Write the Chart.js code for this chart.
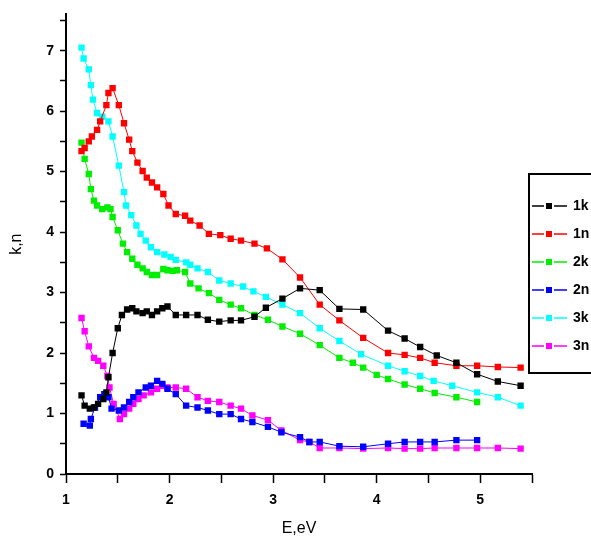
<!DOCTYPE html>
<html>
<head>
<meta charset="utf-8">
<script src="https://cdn.jsdelivr.net/npm/chart.js@4.4.1/dist/chart.umd.min.js"></script>
<style>
  html, body { margin: 0; padding: 0; background: #fff; }
</style>
</head>
<body>
<canvas id="chart" width="591" height="551"></canvas>
<script>
// series labels and colours
const seriesNames = ['1k', '1n', '2k', '2n', '3k', '3n'];
const seriesColors = ['#000000', '#ff0000', '#00ee00', '#0000ff', '#00ffff', '#ff00ff'];

// 1k (black)
const e1k = [1.15,1.18,1.23,1.27,1.31,1.36,1.39,1.41,1.45,1.50,1.54,1.59,1.64,1.68,1.74,1.78,1.83,1.88,1.93,1.98,2.06,2.16,2.27,2.37,2.48,2.59,2.69,2.82,2.93,3.09,3.26,3.45,3.64,3.87,4.11,4.27,4.42,4.58,4.77,4.97,5.17,5.39];
const v1k = [1.30,1.13,1.08,1.10,1.16,1.24,1.35,1.60,2.00,2.41,2.63,2.72,2.74,2.69,2.66,2.69,2.63,2.69,2.74,2.77,2.63,2.63,2.63,2.55,2.52,2.54,2.54,2.60,2.75,2.90,3.07,3.04,2.73,2.72,2.37,2.24,2.10,1.96,1.84,1.65,1.53,1.46];

// 1n (red)
const e1n = [1.15,1.18,1.22,1.25,1.30,1.33,1.39,1.41,1.45,1.51,1.56,1.61,1.64,1.69,1.74,1.78,1.83,1.88,1.94,1.99,2.06,2.15,2.20,2.29,2.38,2.49,2.59,2.69,2.82,2.94,3.09,3.26,3.45,3.64,3.87,4.11,4.27,4.42,4.56,4.77,4.97,5.17,5.39];
const v1n = [5.34,5.39,5.50,5.58,5.69,5.83,6.10,6.30,6.38,6.10,5.80,5.53,5.34,5.15,5.01,4.90,4.82,4.74,4.63,4.44,4.30,4.27,4.19,4.11,3.97,3.95,3.89,3.86,3.81,3.73,3.55,3.25,2.80,2.54,2.25,2.00,1.97,1.92,1.84,1.79,1.79,1.77,1.76];

// 2k (green)
const e2k = [1.15,1.18,1.22,1.24,1.27,1.30,1.35,1.40,1.43,1.45,1.50,1.55,1.59,1.64,1.69,1.74,1.78,1.83,1.88,1.94,1.98,2.03,2.07,2.15,2.20,2.28,2.38,2.48,2.59,2.69,2.82,2.95,3.09,3.26,3.45,3.64,3.77,3.87,4.00,4.11,4.27,4.42,4.56,4.77,4.97];
const v2k = [5.48,5.21,4.96,4.71,4.52,4.44,4.38,4.41,4.38,4.25,4.03,3.81,3.67,3.56,3.46,3.40,3.34,3.29,3.29,3.39,3.37,3.36,3.37,3.34,3.15,3.07,2.99,2.88,2.80,2.74,2.63,2.55,2.44,2.32,2.13,1.92,1.84,1.76,1.64,1.57,1.48,1.41,1.34,1.27,1.19];

// 2n (blue)
const e2n = [1.17,1.23,1.24,1.28,1.33,1.37,1.41,1.44,1.51,1.56,1.61,1.65,1.70,1.77,1.82,1.88,1.93,1.98,2.06,2.16,2.27,2.37,2.48,2.59,2.69,2.80,2.95,3.08,3.26,3.35,3.45,3.64,3.87,4.11,4.27,4.42,4.56,4.77,4.97];
const v2n = [0.83,0.80,0.91,1.10,1.27,1.32,1.27,1.08,1.05,1.10,1.19,1.27,1.35,1.43,1.46,1.54,1.49,1.41,1.32,1.13,1.10,1.05,0.99,0.99,0.91,0.86,0.78,0.69,0.61,0.53,0.53,0.46,0.45,0.50,0.53,0.53,0.53,0.56,0.56];

// 3k (cyan)
const e3k = [1.15,1.17,1.22,1.24,1.26,1.30,1.35,1.41,1.45,1.51,1.56,1.58,1.63,1.68,1.72,1.77,1.82,1.88,1.95,2.01,2.06,2.16,2.20,2.27,2.37,2.48,2.59,2.71,2.81,2.93,3.09,3.26,3.45,3.64,3.85,4.11,4.27,4.42,4.55,4.73,4.97,5.17,5.39];
const v3k = [7.05,6.87,6.69,6.43,6.19,5.97,5.91,5.83,5.58,5.10,4.66,4.44,4.28,4.11,3.97,3.86,3.75,3.67,3.63,3.59,3.54,3.50,3.46,3.40,3.34,3.20,3.15,3.10,3.02,2.93,2.80,2.66,2.41,2.20,1.98,1.79,1.70,1.62,1.54,1.46,1.35,1.27,1.13];

// 3n (magenta)
const e3n = [1.15,1.18,1.22,1.27,1.31,1.36,1.40,1.42,1.46,1.52,1.56,1.61,1.65,1.70,1.75,1.82,1.88,1.93,1.98,2.06,2.16,2.27,2.37,2.48,2.59,2.69,2.80,2.95,3.08,3.26,3.35,3.45,3.64,3.87,4.11,4.27,4.42,4.56,4.77,4.97,5.17,5.39];
const v3n = [2.58,2.36,2.11,1.92,1.87,1.79,1.62,1.43,1.16,0.91,0.99,1.08,1.16,1.24,1.30,1.35,1.41,1.46,1.43,1.43,1.41,1.27,1.21,1.19,1.13,1.08,0.97,0.89,0.72,0.56,0.53,0.43,0.43,0.42,0.43,0.42,0.42,0.43,0.43,0.43,0.43,0.42];

const energies = [e1k, e1n, e2k, e2n, e3k, e3n];
const values = [v1k, v1n, v2k, v2n, v3k, v3n];

const toPoints = (xs, ys) => xs.map((x, i) => ({ x: x, y: ys[i] }));

const datasets = seriesNames.map((name, i) => ({
    label: name,
    data: toPoints(energies[i], values[i]),
    borderColor: seriesColors[i],
    backgroundColor: seriesColors[i],
    borderWidth: 1,
    pointStyle: 'rect',
    pointRadius: 4.5,
    pointBorderWidth: 0,
    showLine: true,
    tension: 0
}));

// legend box like the original, drawn on top of the plot
const boxLegend = {
    id: 'boxLegend',
    afterDraw(chart) {
        const ctx = chart.ctx;
        ctx.save();
        ctx.fillStyle = '#fff';
        ctx.fillRect(529, 174, 70, 199);
        ctx.strokeStyle = '#000';
        ctx.lineWidth = 2;
        ctx.strokeRect(529, 174, 70, 199);
        ctx.font = 'bold 14px "Liberation Sans", Arial, sans-serif';
        ctx.textBaseline = 'middle';
        seriesNames.forEach((name, i) => {
            const y = 206 + i * 28;
            ctx.strokeStyle = seriesColors[i];
            ctx.lineWidth = 1.5;
            ctx.beginPath();
            ctx.moveTo(532, y); ctx.lineTo(544, y);
            ctx.moveTo(554, y); ctx.lineTo(567, y);
            ctx.stroke();
            ctx.fillStyle = seriesColors[i];
            ctx.fillRect(546, y - 3, 6, 6);
            ctx.fillStyle = '#000';
            ctx.fillText(name, 573, y);
        });
        ctx.restore();
    }
};

const tickFont = { family: '"Liberation Sans", Arial, sans-serif', size: 14, weight: 'bold' };
const titleFont = { family: '"Liberation Sans", Arial, sans-serif', size: 16 };
const context = document.getElementById('chart').getContext('2d');
const chart = new Chart(context, {
    type: 'line',
    data: { datasets: datasets },
    options: {
        responsive: false,
        animation: false,
        layout: { padding: { left: 0, top: 10, right: 59, bottom: 0 } },
        plugins: {
            legend: { display: false },
            tooltip: { enabled: false }
        },
        scales: {
            x: {
                type: 'linear',
                min: 1,
                max: 5.5,
                border: { color: '#000', width: 2 },
                grid: { drawOnChartArea: false, drawTicks: true, tickLength: 9, color: '#000', tickWidth: 1.5 },
                ticks: {
                    stepSize: 0.5,
                    includeBounds: false,
                    maxRotation: 0,
                    autoSkip: false,
                    padding: 9,
                    color: '#000',
                    font: tickFont,
                    callback: v => Number.isInteger(v) && v < 5.5 ? String(v) : ''
                },
                title: {
                    display: true,
                    text: 'E,eV',
                    color: '#000',
                    font: titleFont,
                    padding: { top: 0, bottom: 13 }
                },
                afterFit: scale => { scale.height = 77; }
            },
            y: {
                min: 0,
                max: 7.6,
                border: { color: '#000', width: 2 },
                grid: { drawOnChartArea: false, drawTicks: true, tickLength: 6, color: '#000', tickWidth: 1.5 },
                ticks: {
                    stepSize: 0.5,
                    includeBounds: false,
                    autoSkip: false,
                    padding: 6,
                    color: '#000',
                    font: tickFont,
                    callback: v => Number.isInteger(v) ? String(v) : ''
                },
                title: {
                    display: true,
                    text: 'k,n',
                    color: '#000',
                    font: titleFont,
                    padding: { top: 7, bottom: 0 }
                },
                afterFit: scale => { scale.width = 66; }
            }
        }
    },
    plugins: [boxLegend]
});
</script>
</body>
</html>
